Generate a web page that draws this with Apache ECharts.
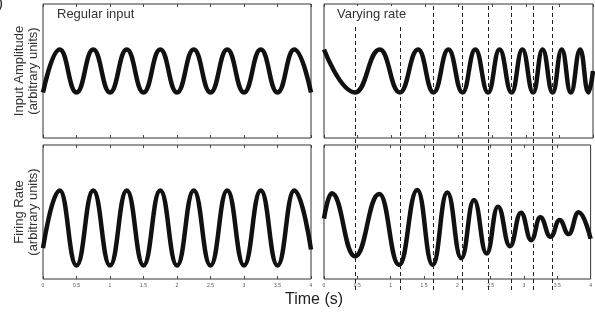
<!DOCTYPE html>
<html>
<head>
<meta charset="utf-8">
<script src="https://cdn.jsdelivr.net/npm/echarts@6/dist/echarts.min.js"></script>
<style>
html, body { margin: 0; padding: 0; background: #fff; }
#main { width: 595px; height: 314px; }
</style>
</head>
<body>
<div id="main"></div>
<script>
// extrema (time in s, value in arbitrary units 0..10)
var regularTimes = [0, 0.25, 0.5, 0.75, 1, 1.25, 1.5, 1.75, 2, 2.25, 2.5, 2.75, 3, 3.25, 3.5, 3.75, 4];
var regularInput = [3.4, 6.6, 3.4, 6.6, 3.4, 6.6, 3.4, 6.6, 3.4, 6.6, 3.4, 6.6, 3.4, 6.6, 3.4, 6.6, 3.4];
var regularRate  = [2.3, 6.6, 1.0, 6.6, 1.0, 6.6, 1.0, 6.6, 1.0, 6.6, 1.0, 6.6, 1.0, 6.6, 1.0, 6.6, 2.2];

var varyingInputTimes = [0, 0.465, 0.83, 1.127, 1.4, 1.63, 1.85, 2.06, 2.25, 2.44, 2.61, 2.79, 2.95, 3.11, 3.25, 3.4, 3.535, 3.67, 3.81, 3.93, 4];
var varyingInput      = [6.6, 3.4, 6.6, 3.4, 6.6, 3.4, 6.6, 3.4, 6.6, 3.4, 6.6, 3.4, 6.6, 3.4, 6.6, 3.4, 6.6, 3.4, 6.6, 3.4, 5.0];

var varyingRateTimes = [0, 0.115, 0.465, 0.83, 1.127, 1.4, 1.63, 1.85, 2.06, 2.25, 2.44, 2.61, 2.79, 2.955, 3.11, 3.245, 3.4, 3.535, 3.67, 3.82, 4];
var varyingRate      = [4.5, 6.4, 1.7, 6.35, 1.05, 6.65, 1.05, 6.45, 1.55, 5.9, 1.9, 5.4, 2.45, 4.95, 2.9, 4.6, 3.15, 4.4, 3.35, 4.98, 3.0];

// dashed markers at the input troughs
var troughTimes = [0.465, 1.127, 1.63, 2.06, 2.44, 2.79, 3.11, 3.4];

function pairs(xs, ys) {
    var list = [];
    for (var i = 0; i < xs.length; i++) {
        list.push([xs[i], ys[i]]);
    }
    return list;
}

var chart = echarts.init(document.getElementById('main'));

var font = 'Liberation Sans, Arial, Helvetica, sans-serif';
var grids = [
    {left: 43, top: 4, width: 268, height: 134},
    {left: 324, top: 4, width: 269, height: 134},
    {left: 43, top: 145, width: 268, height: 134},
    {left: 324, top: 145, width: 269, height: 134},
    {left: 324, top: 4, width: 269, height: 286}   // overlay for dashed lines
];
grids.forEach(function (g, i) {
    g.show = i < 4;
    g.borderColor = '#333';
    g.borderWidth = 1;
    g.backgroundColor = 'transparent';
    g.containLabel = false;
});

var xAxes = [];
var yAxes = [];
for (var i = 0; i < 4; i++) {
    var bottomRow = i >= 2;
    xAxes.push({
        type: 'value', gridIndex: i, min: 0, max: 4, interval: 0.5, position: 'bottom',
        axisLine: {show: false},
        axisTick: {show: true, inside: true, length: 3, lineStyle: {color: '#444'}},
        axisLabel: {show: bottomRow, fontSize: 5, color: '#555', margin: 4, fontFamily: font},
        splitLine: {show: false}
    });
    xAxes.push({
        type: 'value', gridIndex: i, min: 0, max: 4, interval: 0.5, position: 'top',
        axisLine: {show: false},
        axisTick: {show: true, inside: true, length: 3, lineStyle: {color: '#444'}},
        axisLabel: {show: false},
        splitLine: {show: false}
    });
    yAxes.push({
        type: 'value', gridIndex: i, min: 0, max: 10,
        axisLine: {show: false}, axisTick: {show: false}, axisLabel: {show: false}, splitLine: {show: false},
        name: i === 0 ? 'Input Amplitude\n(arbitrary units)' : (i === 2 ? 'Firing Rate\n(arbitrary units)' : ''),
        nameLocation: 'middle', nameRotate: 90, nameGap: 3,
        nameTextStyle: {fontSize: 13, color: '#333', fontFamily: font, lineHeight: 14}
    });
}
xAxes.push({type: 'value', gridIndex: 4, min: 0, max: 4, show: false});
yAxes.push({type: 'value', gridIndex: 4, min: 0, max: 1, show: false});

var curveStyle = {color: '#111', width: 4.5};
function curve(idx, xs, ys) {
    return {
        type: 'line', xAxisIndex: idx * 2, yAxisIndex: idx,
        data: pairs(xs, ys),
        smooth: 0.47, smoothMonotone: 'x',
        showSymbol: false, symbol: 'none',
        lineStyle: curveStyle, z: 3, animation: false
    };
}

chart.setOption({
    animation: false,
    title: [
        {text: 'Regular input', left: 54, top: 6, padding: [2, 3, 4, 3],
         textStyle: {fontSize: 13, fontWeight: 'normal', color: '#333', fontFamily: font}},
        {text: 'Varying rate', left: 334, top: 6, padding: [2, 3, 6, 3], backgroundColor: '#fff',
         textStyle: {fontSize: 13, fontWeight: 'normal', color: '#333', fontFamily: font}},
        {text: 'Time (s)', left: 285, top: 292, padding: 0,
         textStyle: {fontSize: 16, fontWeight: 'normal', color: '#222', fontFamily: font}},
        {text: ')', left: -2, top: -4, padding: 0,
         textStyle: {fontSize: 15, fontWeight: 'normal', color: '#222', fontFamily: font}}
    ],
    grid: grids,
    xAxis: xAxes,
    yAxis: yAxes,
    series: [
        curve(0, regularTimes, regularInput),
        curve(1, varyingInputTimes, varyingInput),
        curve(2, regularTimes, regularRate),
        curve(3, varyingRateTimes, varyingRate),
        {
            type: 'line', xAxisIndex: 8, yAxisIndex: 4, data: [], z: 1,
            markLine: {
                silent: true, symbol: ['none', 'none'], animation: false,
                label: {show: false},
                lineStyle: {color: '#222', width: 1, type: [4, 3]},
                data: troughTimes.map(function (t) { return {xAxis: t}; })
            }
        }
    ]
});
</script>
</body>
</html>
